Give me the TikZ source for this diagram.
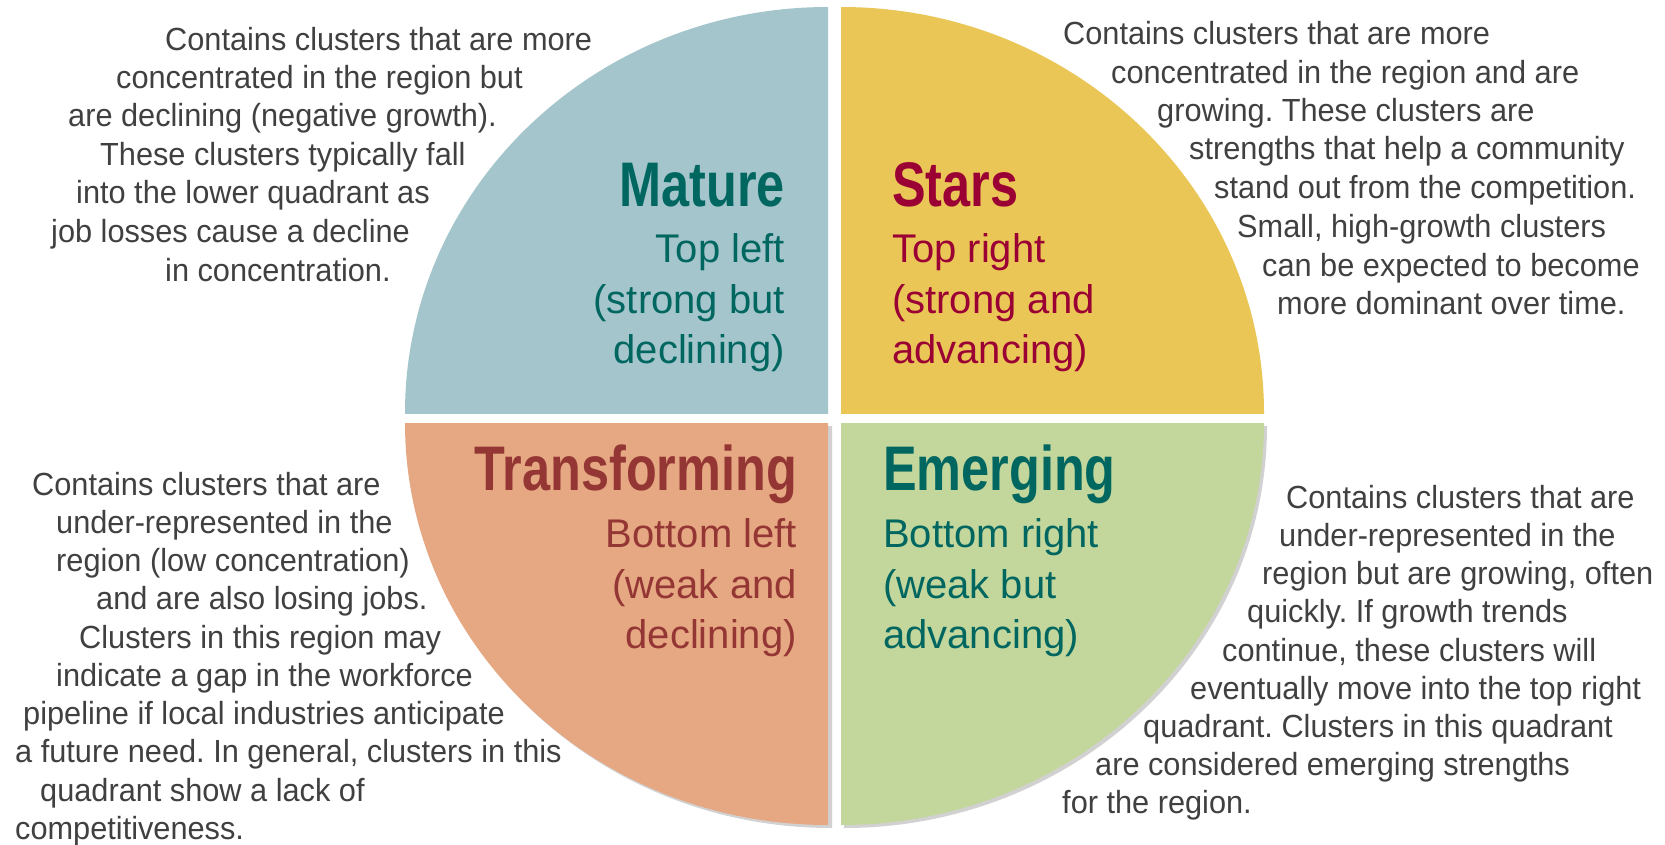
\documentclass[tikz,border=0pt]{standalone}
\usepackage{fontspec}
\setmainfont{Liberation Sans}
\newfontfamily\bodyfont{Liberation Sans}[FakeStretch=0.96]
\newfontfamily\headfont{Liberation Sans}[FakeStretch=0.8]
\definecolor{qblue}{HTML}{A4C5CB}
\definecolor{qyellow}{HTML}{E9C656}
\definecolor{qorange}{HTML}{E6A783}
\definecolor{qgreen}{HTML}{C3D69C}
\definecolor{teal}{HTML}{006660}
\definecolor{crimson}{HTML}{9B0034}
\definecolor{brick}{HTML}{943634}
\definecolor{bodygray}{HTML}{404040}
\tikzset{
  body/.style={anchor=base west, inner sep=0pt, text=bodygray, font=\bodyfont\frenchspacing\fontsize{32}{32}\selectfont},
  headL/.style={anchor=base east, inner sep=0pt, font=\headfont\bfseries\fontsize{63}{63}\selectfont},
  headR/.style={anchor=base west, inner sep=0pt, font=\headfont\bfseries\fontsize{63}{63}\selectfont},
  subL/.style={anchor=base east, inner sep=0pt, font=\fontsize{40}{40}\selectfont},
  subR/.style={anchor=base west, inner sep=0pt, font=\fontsize{40}{40}\selectfont},
  shadow/.style={fill=black, opacity=0.18}
}
\begin{document}
\begin{tikzpicture}[x=1pt,y=-1pt]
\useasboundingbox (0,0) rectangle (1665,845);
\fill[white] (0,0) rectangle (1665,845);
% shadows of bottom quadrants
\begin{scope}
\clip (405,426) rectangle (832,829);
\fill[shadow] (831,426) ellipse [x radius=423, y radius=402];
\end{scope}
\begin{scope}
\clip (844,426) rectangle (1268,829);
\fill[shadow] (844,426) ellipse [x radius=423, y radius=402];
\end{scope}
% quadrants
\begin{scope}
\clip (405,0) rectangle (828,413);
\fill[qblue] (828,413) ellipse [x radius=423, y radius=406];
\end{scope}
\begin{scope}
\clip (841,0) rectangle (1264,413);
\fill[qyellow] (841,413) ellipse [x radius=423, y radius=406];
\end{scope}
\begin{scope}
\clip (405,423) rectangle (828,845);
\fill[qorange] (828,423) ellipse [x radius=423, y radius=402];
\end{scope}
\begin{scope}
\clip (841,423) rectangle (1264,845);
\fill[qgreen] (841,423) ellipse [x radius=423, y radius=402];
\end{scope}
% quadrant titles
\node[headL, text=teal] (matureT) at (785,207) {Mature};
\node[subL, text=teal] (mature1) at (785,262) {Top left};
\node[subL, text=teal] (mature2) at (785,313) {(strong but};
\node[subL, text=teal] (mature3) at (785,363) {declining)};
\node[headR, text=crimson] (starsT) at (892,207) {Stars};
\node[subR, text=crimson] (stars1) at (892,262) {Top right};
\node[subR, text=crimson] (stars2) at (892,313) {(strong and};
\node[subR, text=crimson] (stars3) at (892,363) {advancing)};
\node[headL, text=brick] (transT) at (797,490) {Transforming};
\node[subL, text=brick] (trans1) at (797,547) {Bottom left};
\node[subL, text=brick] (trans2) at (797,598) {(weak and};
\node[subL, text=brick] (trans3) at (797,648) {declining)};
\node[headR, text=teal] (emergT) at (883,490) {Emerging};
\node[subR, text=teal] (emerg1) at (883,547) {Bottom right};
\node[subR, text=teal] (emerg2) at (883,598) {(weak but};
\node[subR, text=teal] (emerg3) at (883,648) {advancing)};
% top-left text
\node[body] (tl1) at (165,51) {Contains clusters that are more};
\node[body] (tl2) at (116,89) {concentrated in the region but};
\node[body] (tl3) at (68,127) {are declining (negative growth).};
\node[body] (tl4) at (100,166) {These clusters typically fall};
\node[body] (tl5) at (76,204) {into the lower quadrant as};
\node[body] (tl6) at (51,242) {job losses cause a decline};
\node[body] (tl7) at (165,281) {in concentration.};
% top-right text
\node[body] (tr1) at (1063,45) {Contains clusters that are more};
\node[body] (tr2) at (1111,84) {concentrated in the region and are};
\node[body] (tr3) at (1157,122) {growing. These clusters are};
\node[body] (tr4) at (1189,160) {strengths that help a community};
\node[body] (tr5) at (1214,199) {stand out from the competition.};
\node[body] (tr6) at (1237,237) {Small, high-growth clusters};
\node[body] (tr7) at (1262,276) {can be expected to become};
\node[body] (tr8) at (1277,314) {more dominant over time.};
% bottom-left text
\node[body] (bl1) at (32,495) {Contains clusters that are};
\node[body] (bl2) at (56,533) {under-represented in the};
\node[body] (bl3) at (56,571) {region (low concentration)};
\node[body] (bl4) at (96,609) {and are also losing jobs.};
\node[body] (bl5) at (79,648) {Clusters in this region may};
\node[body] (bl6) at (56,686) {indicate a gap in the workforce};
\node[body] (bl7) at (23,724) {pipeline if local industries anticipate};
\node[body] (bl8) at (15,762) {a future need. In general, clusters in this};
\node[body] (bl9) at (40,801) {quadrant show a lack of};
\node[body] (bl10) at (15,839) {competitiveness.};
% bottom-right text
\node[body] (br1) at (1286,508) {Contains clusters that are};
\node[body] (br2) at (1279,546) {under-represented in the};
\node[body] (br3) at (1262,584) {region but are growing, often};
\node[body] (br4) at (1247,622) {quickly. If growth trends};
\node[body] (br5) at (1222,661) {continue, these clusters will};
\node[body] (br6) at (1190,699) {eventually move into the top right};
\node[body] (br7) at (1143,737) {quadrant. Clusters in this quadrant};
\node[body] (br8) at (1095,775) {are considered emerging strengths};
\node[body] (br9) at (1062,813) {for the region.};
\end{tikzpicture}
\end{document}
